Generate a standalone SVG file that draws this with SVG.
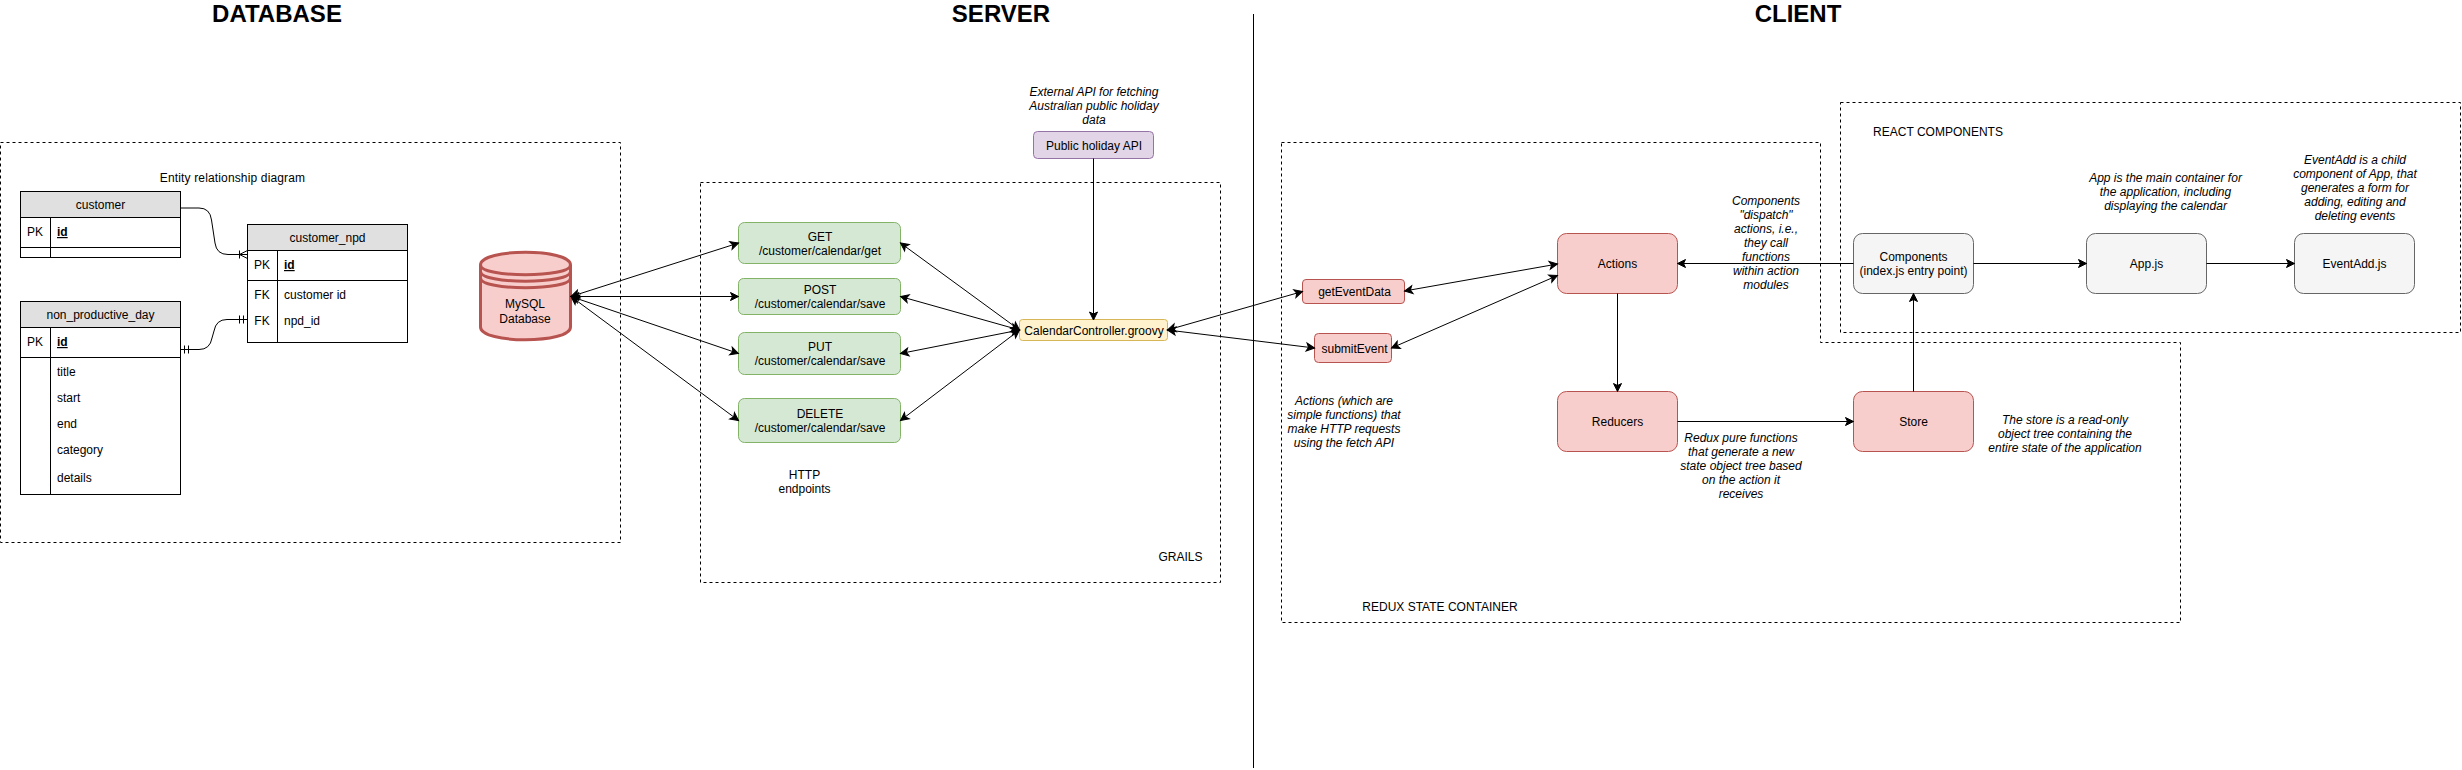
<svg xmlns="http://www.w3.org/2000/svg" width="2462" height="770" viewBox="0 0 2462 770">
<style>
text{font-family:"Liberation Sans",Arial,sans-serif;font-size:12px;fill:#000}
.c{text-anchor:middle}
.i{font-style:italic}
.title{font-size:24px;font-weight:bold;text-anchor:middle}
.b{font-weight:bold;text-decoration:underline}
.grp{fill:none;stroke:#000;stroke-width:1;stroke-dasharray:3 3}
.tb{fill:#fff;stroke:#000;stroke-width:1}
.hd{fill:#e0e0e0;stroke:#000;stroke-width:1}
.ln{fill:none;stroke:#000;stroke-width:1}
.red{fill:#f8cecc;stroke:#b85450}
.grn{fill:#d5e8d4;stroke:#82b366}
.gry{fill:#f5f5f5;stroke:#666}
.pur{fill:#e1d5e7;stroke:#9673a6}
.yel{fill:#fff2cc;stroke:#d6b656}
.a{marker-end:url(#arr)}
.aa{marker-end:url(#arr);marker-start:url(#arr)}
</style>
<defs>
<marker id="arr" markerUnits="userSpaceOnUse" markerWidth="12" markerHeight="12" refX="9" refY="6" orient="auto-start-reverse" overflow="visible">
<path d="M9 6L1 2L3 6L1 10Z" fill="#000" stroke="#000" stroke-width="1"/>
</marker>
</defs>
<rect width="2462" height="770" fill="#fff"/>

<text class="title" x="277" y="22">DATABASE</text>
<text class="title" x="1001" y="22">SERVER</text>
<text class="title" x="1798" y="22">CLIENT</text>
<path class="ln" d="M1253.5 14V768"/>

<g id="group-database"><rect class="grp" x="0.5" y="142.5" width="620" height="400"/><text class="c" x="232.5" y="182" letter-spacing="0.15">Entity relationship diagram</text></g>
<g id="group-grails"><rect class="grp" x="700.5" y="182.5" width="520" height="400"/><text class="c" x="1180.5" y="561">GRAILS</text></g>
<g id="group-redux"><path class="grp" d="M1281.5 142.5H1820.5V342.5H2180.5V622.5H1281.5Z"/><text class="c" x="1440" y="611">REDUX STATE CONTAINER</text></g>
<g id="group-react"><rect class="grp" x="1840.5" y="102.5" width="620" height="230"/><text class="c" x="1938" y="136">REACT COMPONENTS</text></g>

<g id="customer">
<rect class="tb" x="20.5" y="191.5" width="160" height="66"/>
<rect class="hd" x="20.5" y="191.5" width="160" height="26"/>
<path class="ln" d="M20.5 247.5H180.5M50.5 217.5V257.5"/>
<text class="c" x="100.5" y="209">customer</text>
<text class="c" x="35" y="236">PK</text><text class="b" x="57" y="236">id</text>
</g>
<g id="customer_npd">
<rect class="tb" x="247.5" y="224.5" width="160" height="118"/>
<rect class="hd" x="247.5" y="224.5" width="160" height="26"/>
<path class="ln" d="M247.5 280.5H407.5M277.5 250.5V342.5"/>
<text class="c" x="327.5" y="242">customer_npd</text>
<text class="c" x="262" y="269">PK</text><text class="b" x="284" y="269">id</text>
<text class="c" x="262" y="299">FK</text><text x="284" y="299">customer id</text>
<text class="c" x="262" y="325">FK</text><text x="284" y="325">npd_id</text>
</g>
<g id="non_productive_day">
<rect class="tb" x="20.5" y="301.5" width="160" height="193"/>
<rect class="hd" x="20.5" y="301.5" width="160" height="26"/>
<path class="ln" d="M20.5 357.5H180.5M50.5 327.5V494.5"/>
<text class="c" x="100.5" y="319">non_productive_day</text>
<text class="c" x="35" y="346">PK</text><text class="b" x="57" y="346">id</text>
<text x="57" y="376">title</text>
<text x="57" y="402">start</text>
<text x="57" y="428">end</text>
<text x="57" y="454">category</text>
<text x="57" y="482">details</text>
</g>
<g id="mysql">
<path d="M480.5 265C480.5 248 570.5 248 570.5 265V327C570.5 344 480.5 344 480.5 327Z" fill="#f8cecc" stroke="#b85450" stroke-width="3"/>
<path d="M480.5 265C480.5 278 570.5 278 570.5 265M480.5 271.5C480.5 284.5 570.5 284.5 570.5 271.5M480.5 278C480.5 291 570.5 291 570.5 278" fill="none" stroke="#b85450" stroke-width="3"/>
<text class="c" x="525" y="308">MySQL</text><text class="c" x="525" y="323">Database</text>
</g>

<g id="ep-get"><rect class="grn" x="738.5" y="222.5" width="162" height="41" rx="6"/><text class="c" x="820" y="241">GET</text><text class="c" x="820" y="255">/customer/calendar/get</text></g>
<g id="ep-post"><rect class="grn" x="738.5" y="278.5" width="162" height="36" rx="5"/><text class="c" x="820" y="294">POST</text><text class="c" x="820" y="308">/customer/calendar/save</text></g>
<g id="ep-put"><rect class="grn" x="738.5" y="332.5" width="162" height="42" rx="6"/><text class="c" x="820" y="351">PUT</text><text class="c" x="820" y="365">/customer/calendar/save</text></g>
<g id="ep-delete"><rect class="grn" x="738.5" y="398.5" width="162" height="44" rx="6"/><text class="c" x="820" y="418">DELETE</text><text class="c" x="820" y="432">/customer/calendar/save</text></g>
<g id="http-label"><text class="c" x="804.5" y="479">HTTP</text><text class="c" x="804.5" y="493">endpoints</text></g>

<g id="holiday-api"><rect class="pur" x="1033.5" y="131.5" width="120" height="27" rx="4"/><text class="c" x="1094" y="150">Public holiday API</text></g>
<g id="holiday-note"><text class="c i" x="1094" y="96">External API for fetching</text><text class="c i" x="1094" y="110">Australian public holiday</text><text class="c i" x="1094" y="124">data</text></g>
<g id="controller"><rect class="yel" x="1019.5" y="319.5" width="148" height="21" rx="3"/><text class="c" x="1094" y="335">CalendarController.groovy</text></g>

<g id="getEventData"><rect class="red" x="1302.5" y="279.5" width="102" height="24" rx="3.5"/><text class="c" x="1354.5" y="296">getEventData</text></g>
<g id="submitEvent"><rect class="red" x="1314.5" y="333.5" width="77" height="29" rx="4"/><text class="c" x="1354.5" y="353">submitEvent</text></g>
<g id="actions-note"><text class="c i" x="1344" y="405">Actions (which are</text><text class="c i" x="1344" y="419">simple functions) that</text><text class="c i" x="1344" y="433">make HTTP requests</text><text class="c i" x="1344" y="447">using the fetch API</text></g>
<g id="actions"><rect class="red" x="1557.5" y="233.5" width="120" height="60" rx="9"/><text class="c" x="1617.5" y="268">Actions</text></g>
<g id="reducers"><rect class="red" x="1557.5" y="391.5" width="120" height="60" rx="9"/><text class="c" x="1617.5" y="426">Reducers</text></g>
<g id="store"><rect class="red" x="1853.5" y="391.5" width="120" height="60" rx="9"/><text class="c" x="1913.5" y="426">Store</text></g>
<g id="components"><rect class="gry" x="1853.5" y="233.5" width="120" height="60" rx="9"/><text class="c" x="1913.5" y="261">Components</text><text class="c" x="1913.5" y="275">(index.js entry point)</text></g>
<g id="appjs"><rect class="gry" x="2086.5" y="233.5" width="120" height="60" rx="9"/><text class="c" x="2146.5" y="268">App.js</text></g>
<g id="eventaddjs"><rect class="gry" x="2294.5" y="233.5" width="120" height="60" rx="9"/><text class="c" x="2354.5" y="268">EventAdd.js</text></g>

<g id="components-note"><text class="c i" x="1766" y="205">Components</text><text class="c i" x="1766" y="219">"dispatch"</text><text class="c i" x="1766" y="233">actions, i.e.,</text><text class="c i" x="1766" y="247">they call</text><text class="c i" x="1766" y="261">functions</text><text class="c i" x="1766" y="275">within action</text><text class="c i" x="1766" y="289">modules</text></g>
<g id="reducers-note"><text class="c i" x="1741" y="442">Redux pure functions</text><text class="c i" x="1741" y="456">that generate a new</text><text class="c i" x="1741" y="470">state object tree based</text><text class="c i" x="1741" y="484">on the action it</text><text class="c i" x="1741" y="498">receives</text></g>
<g id="store-note"><text class="c i" x="2065" y="424">The store is a read-only</text><text class="c i" x="2065" y="438">object tree containing the</text><text class="c i" x="2065" y="452">entire state of the application</text></g>
<g id="app-note"><text class="c i" x="2165.5" y="182">App is the main container for</text><text class="c i" x="2165.5" y="196">the application, including</text><text class="c i" x="2165.5" y="210">displaying the calendar</text></g>
<g id="eventadd-note"><text class="c i" x="2355" y="164">EventAdd is a child</text><text class="c i" x="2355" y="178">component of App, that</text><text class="c i" x="2355" y="192">generates a form for</text><text class="c i" x="2355" y="206">adding, editing and</text><text class="c i" x="2355" y="220">deleting events</text></g>

<g id="connectors">
<path class="ln" d="M180.5 208H199Q210 208 211.5 220L215 243Q216.5 254.5 228 254.5H247.5M239.5 250.5V258.5M239.5 254.5L247.5 250.5M239.5 254.5L247.5 258.5"/>
<path class="ln" d="M180.5 349.5H199Q210 349.5 212 338L214 331Q216 319.5 227 319.5H247.5M184.5 345.5V353.5M188.5 345.5V353.5M239.5 315.5V323.5M243.5 315.5V323.5"/>
<path class="ln aa" d="M571 296.5L738.5 243"/>
<path class="ln aa" d="M571 296.5H738.5"/>
<path class="ln aa" d="M571 296.5L738.5 353.5"/>
<path class="ln aa" d="M571 296.5L738.5 420.5"/>
<path class="ln aa" d="M1019.5 330L900.5 243"/>
<path class="ln aa" d="M1019.5 330L900.5 296.5"/>
<path class="ln aa" d="M1019.5 330L900.5 353.5"/>
<path class="ln aa" d="M1019.5 330L900.5 420.5"/>
<path class="ln a" d="M1093.5 158.5V320"/>
<path class="ln aa" d="M1167.5 330L1302.5 291.5"/>
<path class="ln aa" d="M1167.5 330L1314.5 348"/>
<path class="ln aa" d="M1404.5 291L1557.5 264"/>
<path class="ln aa" d="M1391.5 348L1557.5 275.5"/>
<path class="ln a" d="M1853.5 263.5H1677.5"/>
<path class="ln a" d="M1617.5 293.5V391.5"/>
<path class="ln a" d="M1677.5 421.5H1853.5"/>
<path class="ln a" d="M1913.5 391.5V293.5"/>
<path class="ln a" d="M1973.5 263.5H2086.5"/>
<path class="ln a" d="M2206.5 263.5H2294.5"/>
</g>
</svg>
